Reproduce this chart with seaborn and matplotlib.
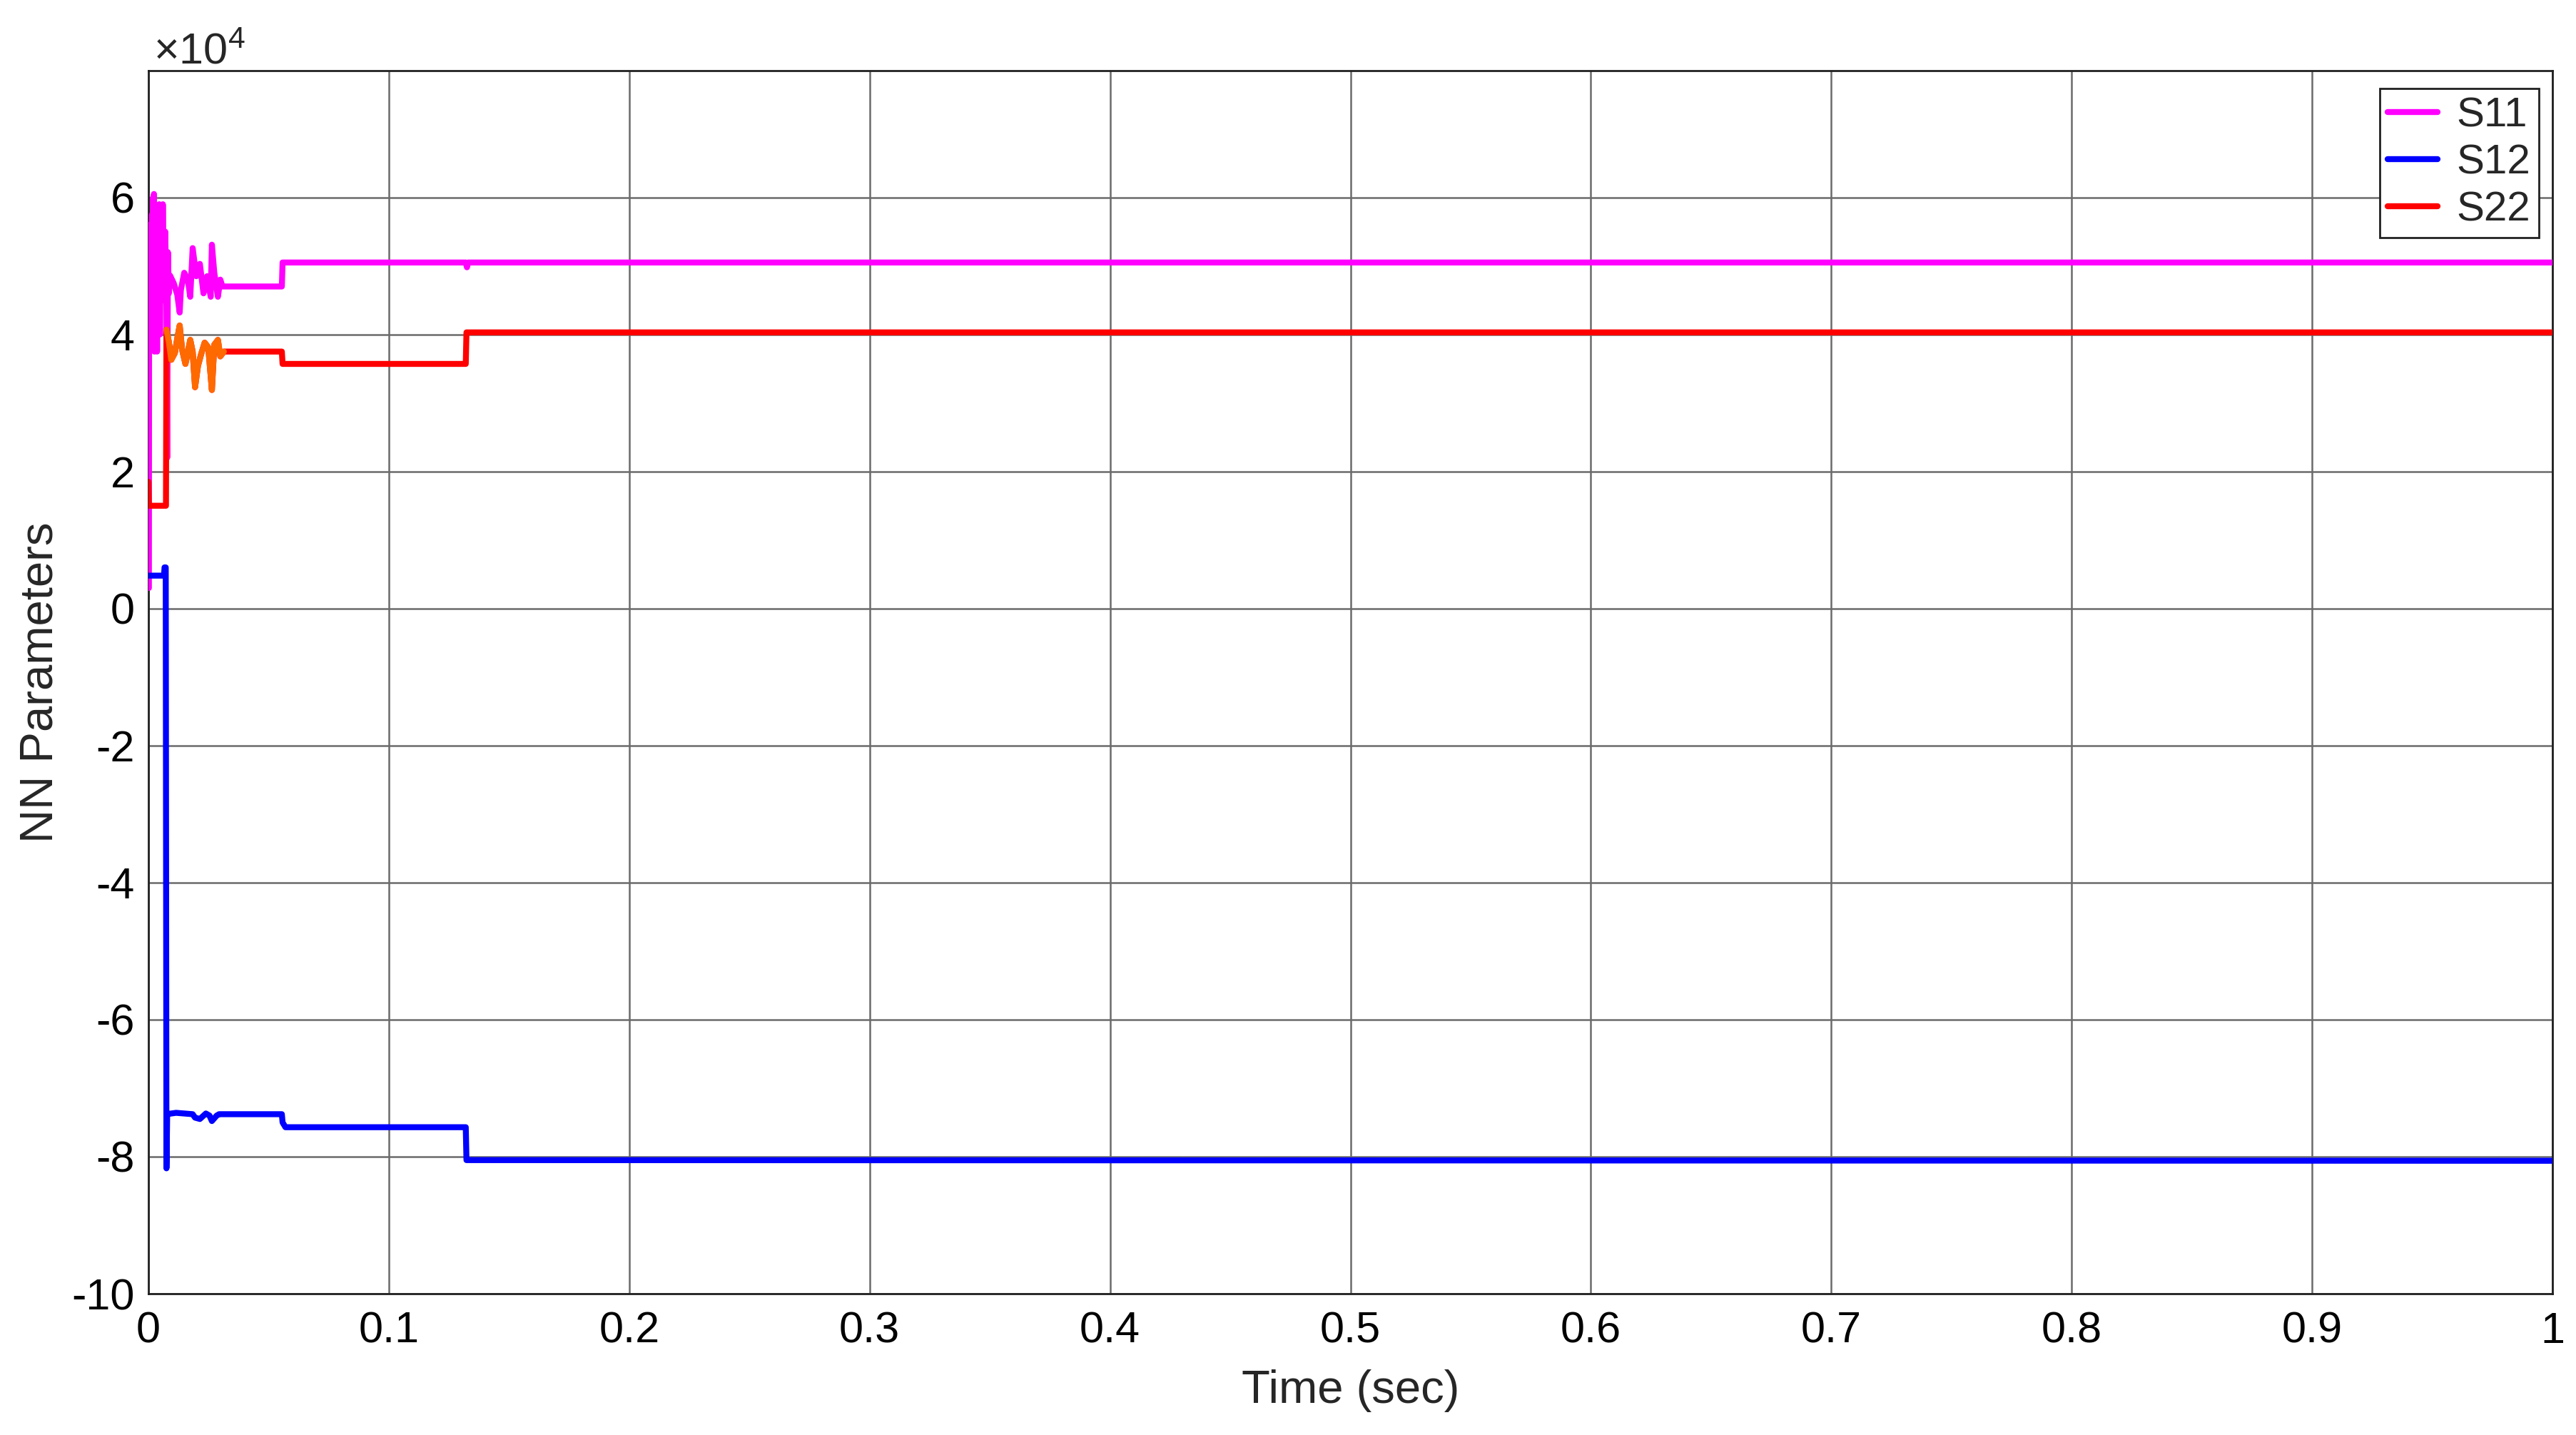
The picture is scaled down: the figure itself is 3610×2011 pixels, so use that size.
import numpy as np
import pandas as pd
import matplotlib
matplotlib.use("Agg")
import matplotlib.pyplot as plt
from matplotlib.ticker import FuncFormatter, FixedLocator
import seaborn as sns

# ---------------- data (values in units of 1e4) ----------------
s11_t = [0.0, 0.0002, 0.0003, 0.0005, 0.0007, 0.0009, 0.0011, 0.0013, 0.0015, 0.0017,
         0.0019, 0.0021, 0.0023, 0.0025, 0.0027, 0.0030, 0.0033, 0.0036, 0.0039, 0.0042,
         0.0045, 0.0048, 0.0052, 0.0056, 0.0060, 0.0065, 0.0070, 0.0075, 0.0078, 0.0081,
         0.0085, 0.0090, 0.0105, 0.0120, 0.0130, 0.0135, 0.0149, 0.0164, 0.0174, 0.0184,
         0.0199, 0.0214, 0.0229, 0.0244, 0.0259, 0.0264, 0.0274, 0.0289, 0.0299, 0.0308,
         0.0555, 0.0558, 0.1320, 0.1325, 0.1330, 1.0]
s11_v = [0.3, 0.3, 5.6, 4.2, 5.6, 3.9, 5.6, 4.4, 5.75, 3.8,
         6.0, 4.0, 6.05, 3.75, 5.9, 4.1, 5.8, 3.75, 5.7, 4.3,
         5.9, 4.0, 5.7, 4.5, 5.9, 4.6, 5.5, 4.4, 2.2, 5.2,
         4.6, 4.86, 4.75, 4.58, 4.32, 4.65, 4.9, 4.8, 4.55, 5.26,
         4.85, 5.03, 4.6, 4.85, 4.55, 5.31, 4.9, 4.55, 4.8, 4.7,
         4.7, 5.05, 5.05, 4.98, 5.05, 5.05]

s12_t = [0.0, 0.0065, 0.0067, 0.0072, 0.0075, 0.0078, 0.0085, 0.0115, 0.0184, 0.0194,
         0.0214, 0.0239, 0.0254, 0.0264, 0.0284, 0.0294, 0.0555, 0.0558, 0.0570, 0.1320,
         0.1323, 1.0]
s12_v = [0.48, 0.48, 0.6, 0.6, -8.17, -7.38, -7.375, -7.36, -7.38, -7.43,
         -7.45, -7.37, -7.40, -7.48, -7.40, -7.38, -7.38, -7.50, -7.57, -7.57,
         -8.05, -8.06]

s22_t = [0.0, 0.0002, 0.0073, 0.0075, 0.0085, 0.0095, 0.0110, 0.0120, 0.0130, 0.0140,
         0.0154, 0.0174, 0.0184, 0.0194, 0.0206, 0.0219, 0.0234, 0.0249, 0.0264, 0.0274,
         0.0289, 0.0299, 0.0314, 0.0555, 0.0558, 0.1320, 0.1323, 1.0]
s22_v = [1.85, 1.5, 1.5, 4.07, 3.89, 3.63, 3.73, 3.94, 4.13, 3.78,
         3.57, 3.92, 3.75, 3.23, 3.54, 3.71, 3.88, 3.81, 3.19, 3.85,
         3.92, 3.68, 3.75, 3.75, 3.57, 3.57, 4.03, 4.03]

series_names = ["S11", "S12", "S22"]
series_colors = ["#ff00ff", "#0000ff", "#ff0000"]
osc_color = "#ff6a00"
scale = 1e4

x_ticks = [0, 0.1, 0.2, 0.3, 0.4, 0.5, 0.6, 0.7, 0.8, 0.9, 1.0]
y_ticks = [-10, -8, -6, -4, -2, 0, 2, 4, 6]

# ---------------- frame ----------------
frames = []
for name, t, v in zip(series_names, [s11_t, s12_t, s22_t], [s11_v, s12_v, s22_v]):
    frames.append(pd.DataFrame({"Time": t, "Value": np.array(v) * scale, "Series": name}))
df = pd.concat(frames, ignore_index=True)

# ---------------- style ----------------
sns.set_theme(style="white")
plt.rcParams["font.family"] = ["Liberation Sans", "DejaVu Sans"]
plt.rcParams["axes.unicode_minus"] = False
plt.rcParams["mathtext.fontset"] = "custom"
plt.rcParams["mathtext.rm"] = "Liberation Sans"
plt.rcParams["mathtext.it"] = "Liberation Sans:italic"

fig = plt.figure(figsize=(36.1, 20.11), dpi=100)
ax = fig.add_axes([208 / 3610, 1 - 1813 / 2011, (3577 - 208) / 3610, (1813 - 99) / 2011])

sns.lineplot(data=df, x="Time", y="Value", hue="Series", hue_order=series_names,
             palette=dict(zip(series_names, series_colors)), estimator=None, sort=False,
             units="Series", lw=6, ax=ax, legend=True, zorder=3)

# orange tint of the S22 oscillation stretch
osc = df[(df.Series == "S22") & (df.Time >= 0.0075) & (df.Time <= 0.0314)]
sns.lineplot(data=osc, x="Time", y="Value", color=osc_color, estimator=None, sort=False,
             lw=6, ax=ax, legend=False, zorder=4)

ax.set_xlim(0, 1)
ax.set_ylim(-10e4, 7.85e4)
ax.xaxis.set_major_locator(FixedLocator(x_ticks))
ax.yaxis.set_major_locator(FixedLocator([y * scale for y in y_ticks]))
ax.xaxis.set_major_formatter(FuncFormatter(lambda v, p: "%g" % round(v, 3)))
ax.yaxis.set_major_formatter(FuncFormatter(lambda v, p: "%g" % round(v / scale, 3)))

ax.grid(True, color="#6a6a6a", lw=1.8, alpha=1)
ax.set_axisbelow(True)
for sp in ax.spines.values():
    sp.set_color("#202020")
    sp.set_linewidth(2.0)
    sp.set_visible(True)
ax.tick_params(direction="in", length=10, width=1.8, colors="black", labelsize=44)
ax.tick_params(axis="x", pad=18)
ax.tick_params(axis="y", pad=14)

ax.set_xlabel("Time (sec)", fontsize=47)
ax.set_ylabel("NN Parameters", fontsize=47)
ax.xaxis.set_label_coords(0.5, -0.062)
ax.yaxis.set_label_coords(-0.036, 0.5)

ax.text(0.002, 0.998, r"$\times\mathregular{10^{4}}$", transform=ax.transAxes,
        fontsize=44, ha="left", va="bottom")

handles, labels = ax.get_legend_handles_labels()
leg = ax.legend(handles[:3], labels[:3], loc="upper right",
                bbox_to_anchor=(0.9944, 0.9854), borderaxespad=0, fontsize=42,
                handlelength=1.2, handletextpad=0.45, labelspacing=0.2, borderpad=0.2,
                fancybox=False, framealpha=1, edgecolor="#202020")
leg.get_frame().set_linewidth(2.0)
for lh in leg.get_lines():
    lh.set_linewidth(6)

fig.savefig("out.png", dpi=100, facecolor="white")
